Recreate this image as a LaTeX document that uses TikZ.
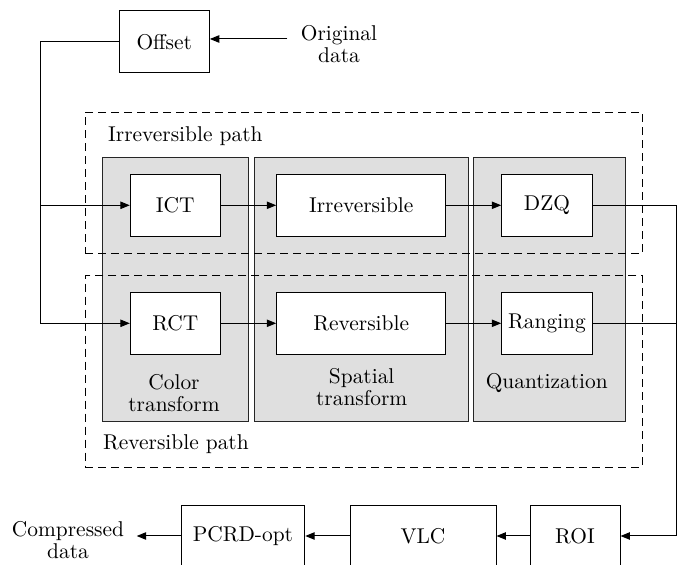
\documentclass[tikz,border=0pt]{standalone}
\usetikzlibrary{arrows.meta}
\begin{document}
\begin{tikzpicture}[x=0.5pt,y=-0.5pt,
  font=\fontsize{10.7pt}{11pt}\selectfont,
  line width=0.5pt,
  blockbox/.style={draw, fill=white, minimum height=31pt, inner sep=0pt},
  stagebox/.style={draw=black!85, fill=gray!25, inner sep=0pt, minimum height=132.35pt},
  pathbox/.style={draw, dash pattern=on 4pt off 2.5pt, inner sep=0pt},
  arr/.style={-{Triangle[length=4.7pt,width=3.7pt]}},
  lbl/.style={align=center, inner sep=0pt}]
\useasboundingbox (0,0) rectangle (680,565);

% transform stages (grey panels)
\node[stagebox, minimum width=73.2pt]   (ct) at (175.5,289.65) {};
\node[stagebox, minimum width=106.85pt] (st) at (361.15,289.65) {};
\node[stagebox, minimum width=76pt]     (qz) at (549.7,289.65) {};

% the two coding paths
\node[pathbox, minimum width=278.7pt, minimum height=70.5pt]  (irrpath) at (364,182.8) {};
\node[pathbox, minimum width=278.35pt, minimum height=95.8pt] (revpath) at (363.65,371.5) {};

\node[lbl, anchor=base west] (irrlbl) at (107.7,141.7) {Irreversible path};
\node[lbl, anchor=base west] (revlbl) at (102.7,450) {Reversible path};
\node[lbl] (ctlbl) at (174,393.5) {Color\\transform};
\node[lbl] (stlbl) at (361.7,387.5) {Spatial\\transform};
\node[lbl, anchor=base] (qzlbl) at (546.7,389) {Quantization};

% processing blocks
\node[blockbox, minimum width=45.15pt] (offset) at (164.2,42) {Offset};
\node[lbl] (orig) at (339,43.6) {Original\\data};

\node[blockbox, minimum width=45pt]   (ict) at (175.3,205.3) {ICT};
\node[blockbox, minimum width=84.5pt] (irr) at (361.2,205.3) {Irreversible};
\node[blockbox, minimum width=45.3pt] (dzq) at (547,205.3) {DZQ};

\node[blockbox, minimum width=45pt]   (rct) at (175.3,323.3) {RCT};
\node[blockbox, minimum width=84.5pt] (rev) at (361.2,323.3) {Reversible};
\node[blockbox, minimum width=45.3pt] (rng) at (547,323.3) {Ranging};

\node[blockbox, minimum width=61.85pt, minimum height=30pt] (pcrd) at (242.9,536) {PCRD-opt};
\node[blockbox, minimum width=73pt, minimum height=30pt]    (vlc) at (423,536) {VLC};
\node[blockbox, minimum width=45pt, minimum height=30pt]    (roi) at (575,536) {ROI};
\node[lbl] (comp) at (68,540) {Compressed\\data};

% routing points
\coordinate (lft) at (40.7,0);
\coordinate (rgt) at (676.7,0);
\coordinate (origtail) at (287.3,39);
\coordinate (comptip) at (136.7,536);

% connectors
\draw[arr] (origtail) -- (offset.east |- origtail);
\draw[arr] (offset.west) -| (lft |- rct.west) -- (rct.west);
\draw[arr] (lft |- ict.west) -- (ict.west);
\draw[arr] (ict) -- (irr);
\draw[arr] (irr) -- (dzq);
\draw[arr] (rct) -- (rev);
\draw[arr] (rev) -- (rng);
\draw[arr] (dzq.east) -- (rgt |- dzq.east) -- (rgt |- roi.east) -- (roi.east);
\draw (rng.east) -- (rgt |- rng.east);
\draw[arr] (roi) -- (vlc);
\draw[arr] (vlc) -- (pcrd);
\draw[arr] (pcrd.west) -- (comptip);
\end{tikzpicture}
\end{document}
